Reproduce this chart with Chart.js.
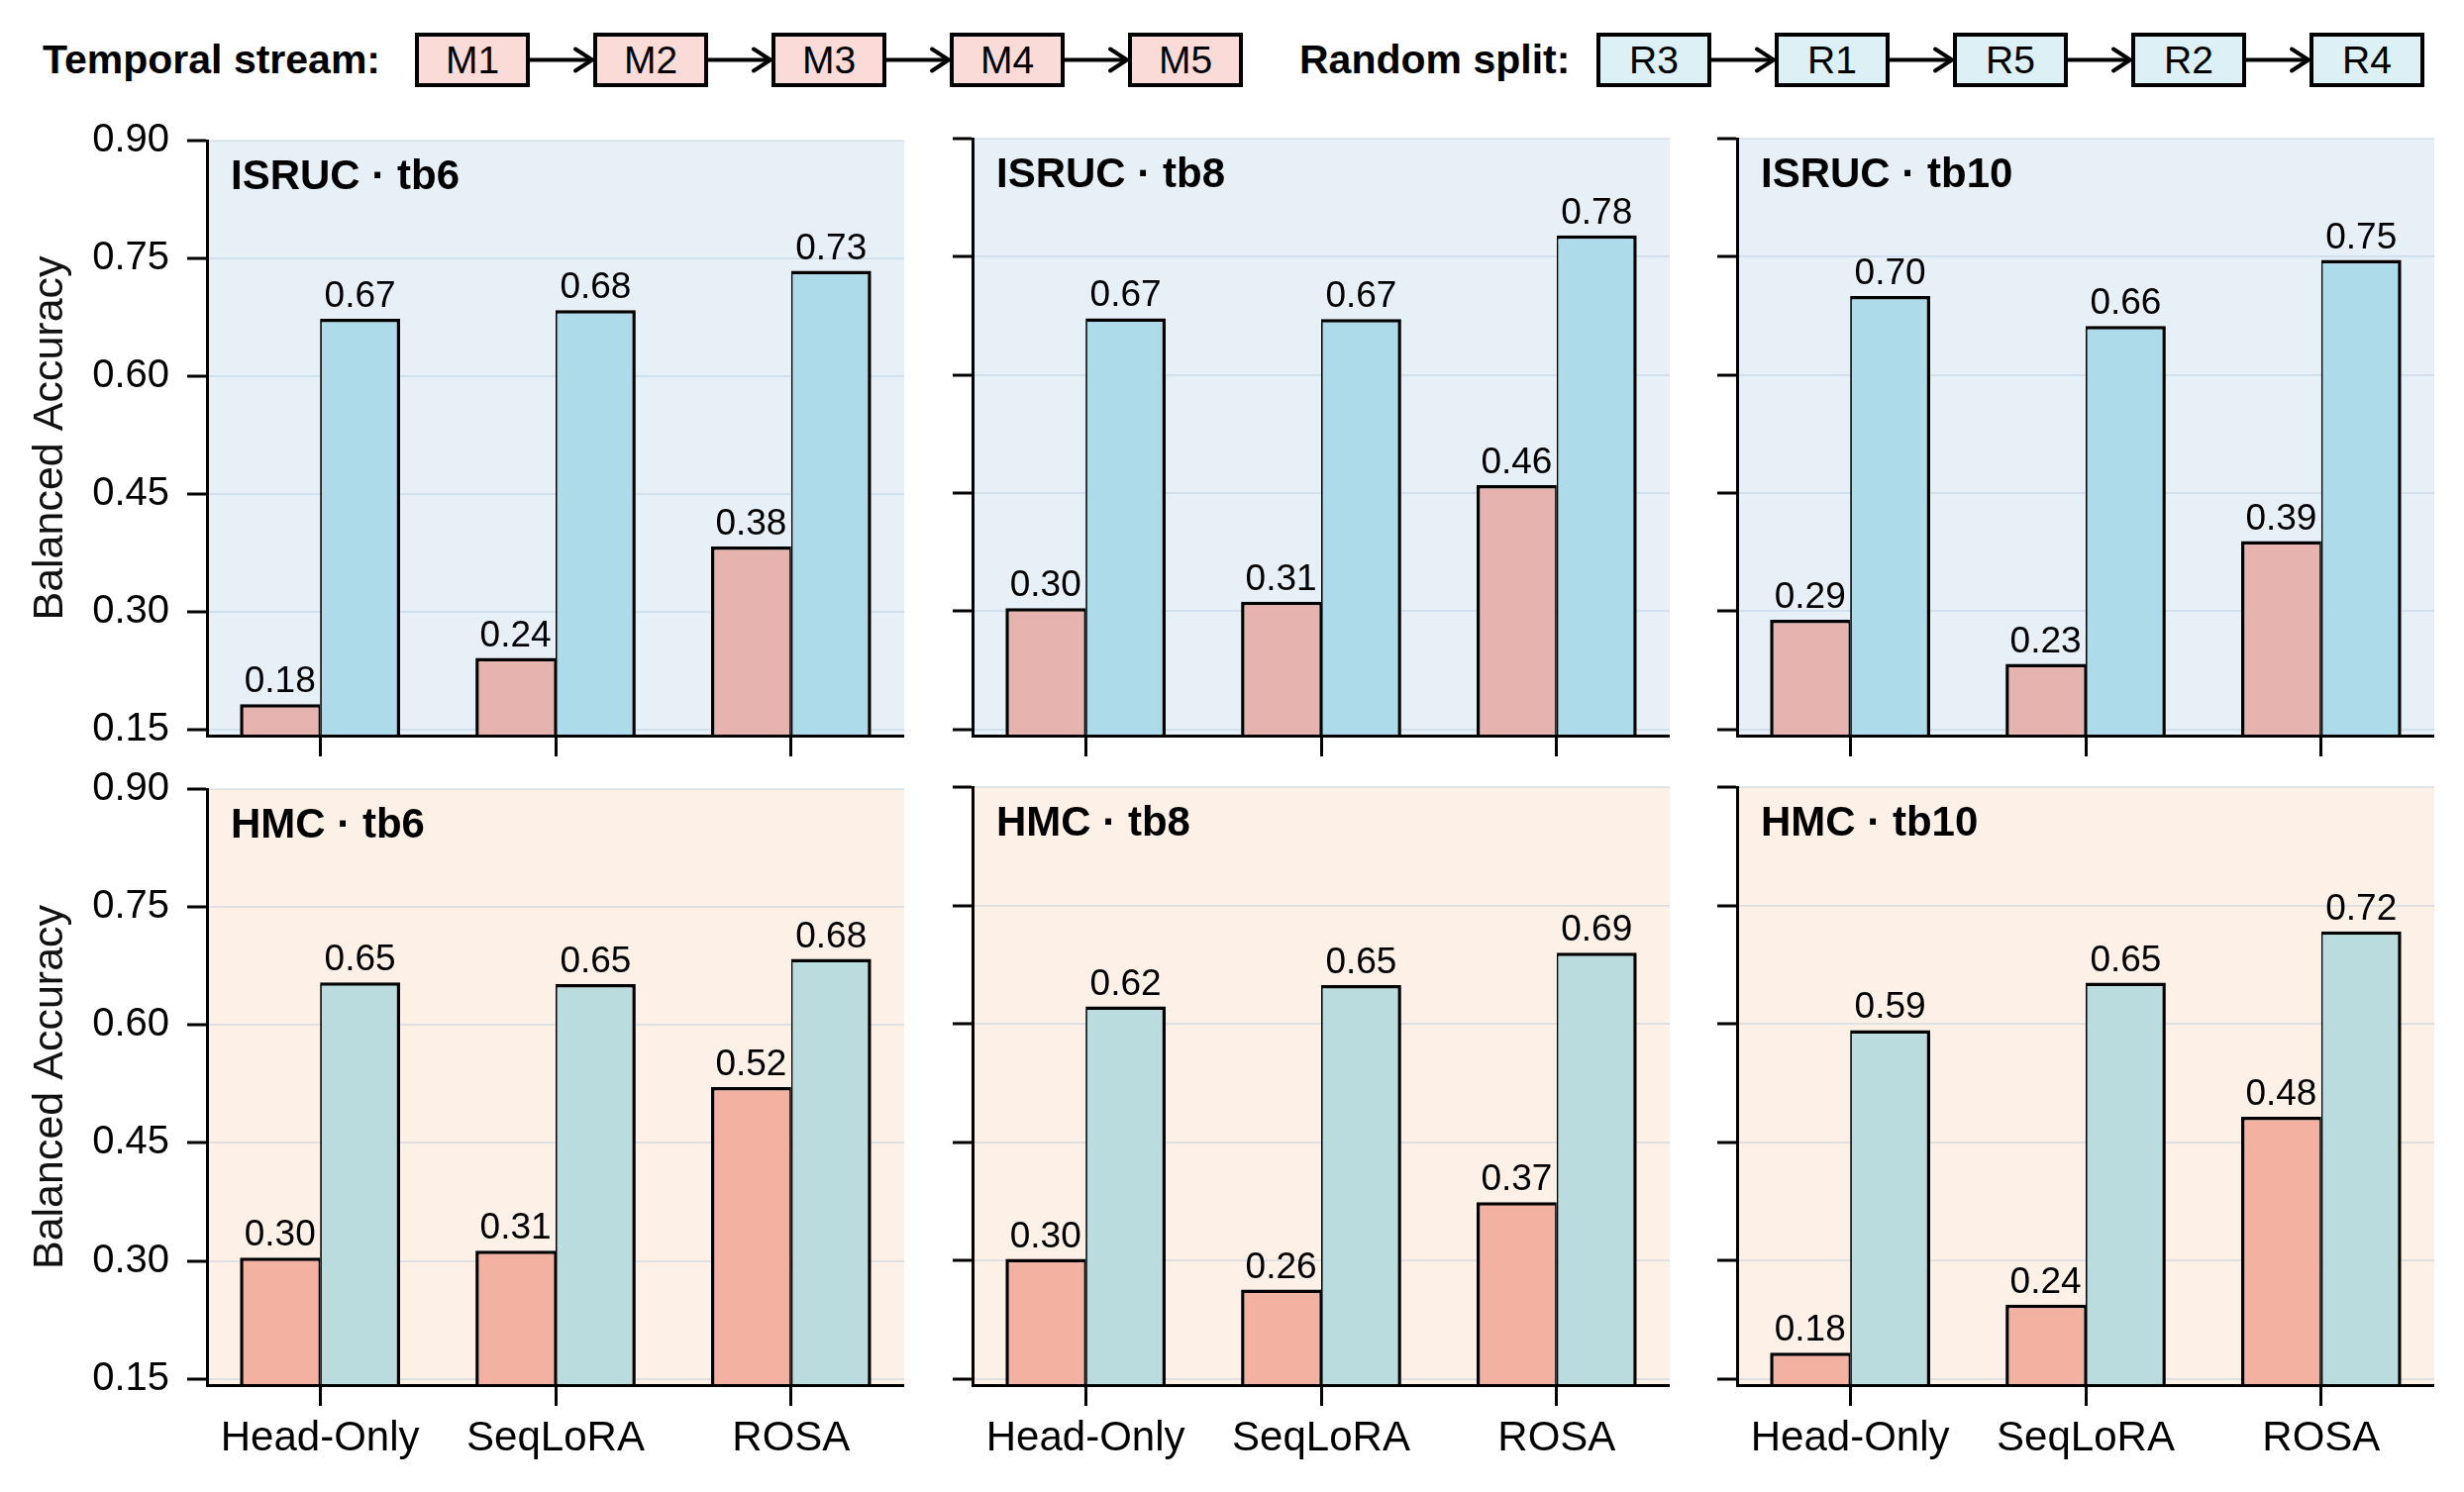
<!DOCTYPE html>
<html>
<head>
<meta charset="utf-8">
<script src="https://cdn.jsdelivr.net/npm/chart.js@4.4.1/dist/chart.umd.min.js"></script>
<style>
  html, body { margin: 0; padding: 0; background: #fff; }
  #wrap { position: relative; width: 2488px; height: 1507px; overflow: hidden;
          font-family: "Liberation Sans", Arial, sans-serif; color: #000; }
  #wrap canvas { position: absolute; }
  .hdr { position: absolute; top: 33px; height: 55px; line-height: 55px;
         font-weight: bold; font-size: 41px; white-space: nowrap; }
  .box { position: absolute; box-sizing: border-box; border: 4px solid #000;
         font-size: 39px; display: flex; align-items: center; justify-content: center; }
  #arrows { position: absolute; left: 0; top: 0; }
</style>
</head>
<body>
<div id="wrap">
  <div class="hdr" style="left:43px">Temporal stream:</div>
  <div class="hdr" style="left:1312px">Random split:</div>
  <svg id="arrows" width="2488" height="110"></svg>
</div>
<script>
const FONT = '"Liberation Sans", Arial, sans-serif';

// categories / labels
const methods = ['Head-Only', 'SeqLoRA', 'ROSA'];
const yTicks = [0.15, 0.30, 0.45, 0.60, 0.75, 0.90];
const datasetNames = ['ISRUC', 'HMC'];
const budgets = ['tb6', 'tb8', 'tb10'];
const temporalOrder = ['M1', 'M2', 'M3', 'M4', 'M5'];
const randomOrder = ['R3', 'R1', 'R5', 'R2', 'R4'];

// balanced accuracy
const isrucTb6Temporal = [0.182, 0.241, 0.383];
const isrucTb6Random = [0.673, 0.684, 0.734];
const isrucTb8Temporal = [0.304, 0.312, 0.460];
const isrucTb8Random = [0.672, 0.671, 0.777];
const isrucTb10Temporal = [0.289, 0.233, 0.389];
const isrucTb10Random = [0.700, 0.662, 0.746];
const hmcTb6Temporal = [0.304, 0.313, 0.521];
const hmcTb6Random = [0.654, 0.652, 0.684];
const hmcTb8Temporal = [0.302, 0.263, 0.374];
const hmcTb8Random = [0.622, 0.649, 0.690];
const hmcTb10Temporal = [0.183, 0.244, 0.482];
const hmcTb10Random = [0.592, 0.652, 0.717];

const panelValues = {
  ISRUC: { tb6: [isrucTb6Temporal, isrucTb6Random], tb8: [isrucTb8Temporal, isrucTb8Random], tb10: [isrucTb10Temporal, isrucTb10Random] },
  HMC: { tb6: [hmcTb6Temporal, hmcTb6Random], tb8: [hmcTb8Temporal, hmcTb8Random], tb10: [hmcTb10Temporal, hmcTb10Random] }
};

const rowStyles = {
  ISRUC: { bg: '#e8f0f7', temporal: '#e6b3af', random: '#addbe9' },
  HMC: { bg: '#fdf0e6', temporal: '#f3b1a2', random: '#bbdcde' }
};

// layout (px)
const plotL = [209, 982, 1754];
const plotW = 704;
const plotT = [140, 795];
const plotH = [603, 604];
const padTop = 40;

const wrap = document.getElementById('wrap');

// header: two chains of boxes with arrows
const svg = document.getElementById('arrows');
function drawChain(names, x0, fill) {
  const step = 180, w = 116, top = 33, h = 55, cy = 60.5;
  names.forEach((n, i) => {
    const b = document.createElement('div');
    b.className = 'box';
    b.style.left = (x0 + i * step) + 'px';
    b.style.top = top + 'px';
    b.style.width = w + 'px';
    b.style.height = h + 'px';
    b.style.background = fill;
    b.textContent = n;
    wrap.appendChild(b);
    if (i < names.length - 1) {
      const xa = x0 + i * step + w, xb = x0 + (i + 1) * step - 1;
      svg.insertAdjacentHTML('beforeend',
        `<line x1="${xa}" y1="${cy}" x2="${xb}" y2="${cy}" stroke="#000" stroke-width="4"/>` +
        `<polyline points="${xb - 17},${cy - 11} ${xb},${cy} ${xb - 17},${cy + 11}" fill="none" stroke="#000" stroke-width="4" stroke-linecap="round"/>`);
    }
  });
}
drawChain(temporalOrder, 419, '#fadbd8');
drawChain(randomOrder, 1612, '#dcf0f5');

const panelPlugin = {
  id: 'panelDecor',
  beforeDraw(chart, args, opts) {
    const a = chart.chartArea, ctx = chart.ctx;
    ctx.save();
    ctx.fillStyle = opts.bg;
    ctx.fillRect(a.left, a.top, a.right - a.left, a.bottom - a.top);
    ctx.restore();
  },
  afterDatasetsDraw(chart, args, opts) {
    const a = chart.chartArea, ctx = chart.ctx;
    ctx.save();
    ctx.fillStyle = '#000';
    ctx.textAlign = 'center';
    ctx.textBaseline = 'alphabetic';
    ctx.font = `37px ${FONT}`;
    chart.data.datasets.forEach((ds, i) => {
      chart.getDatasetMeta(i).data.forEach((bar, j) => {
        ctx.fillText(ds.data[j].y.toFixed(2), bar.x, bar.y - 12);
      });
    });
    ctx.textAlign = 'left';
    ctx.font = `bold 42px ${FONT}`;
    ctx.fillText(opts.title, a.left + 24, a.top + 49);
    ctx.restore();
  }
};

function makePanel(r, c) {
  const ds = datasetNames[r], tb = budgets[c];
  const [tVals, rVals] = panelValues[ds][tb];
  const st = rowStyles[ds];
  const yW = c === 0 ? 209 : 40;
  const xH = r === 0 ? 60 : 100;
  const w = yW + plotW, h = padTop + plotH[r] + xH;

  const canvas = document.createElement('canvas');
  canvas.width = w; canvas.height = h;
  canvas.style.width = w + 'px'; canvas.style.height = h + 'px';
  canvas.style.left = (plotL[c] - yW) + 'px';
  canvas.style.top = (plotT[r] - padTop) + 'px';
  wrap.appendChild(canvas);

  new Chart(canvas, {
    type: 'bar',
    data: {
      datasets: [
        {
          label: 'Temporal stream',
          data: tVals.map((v, i) => ({ x: i, y: v })),
          backgroundColor: st.temporal,
          borderColor: '#000',
          borderWidth: { top: 3.5, left: 3.5, right: 1.75, bottom: 0 },
          categoryPercentage: 0.68, barPercentage: 1, clip: 0
        },
        {
          label: 'Random split',
          data: rVals.map((v, i) => ({ x: i, y: v })),
          backgroundColor: st.random,
          borderColor: '#000',
          borderWidth: { top: 3.5, left: 1.75, right: 3.5, bottom: 0 },
          categoryPercentage: 0.68, barPercentage: 1, clip: 0
        }
      ]
    },
    options: {
      responsive: false,
      animation: false,
      devicePixelRatio: 1,
      layout: { padding: { top: padTop, left: 0, right: 0, bottom: 0 } },
      plugins: {
        legend: { display: false },
        tooltip: { enabled: false },
        panelDecor: { bg: st.bg, title: `${ds} · ${tb}` }
      },
      scales: {
        x: {
          type: 'linear', min: -0.48, max: 2.48, offset: false,
          afterBuildTicks: s => { s.ticks = methods.map((m, i) => ({ value: i })); },
          afterFit: s => { s.height = xH; },
          grid: { drawOnChartArea: false, drawTicks: true, tickLength: 21, tickColor: '#000', tickWidth: 3, offset: false },
          border: { display: true, color: '#000', width: 3, z: 1 },
          ticks: {
            display: r === 1, autoSkip: false, maxRotation: 0, padding: 8, color: '#000',
            font: { family: FONT, size: 42 },
            callback: v => methods[v]
          }
        },
        y: {
          min: 0.142, max: 0.9,
          afterBuildTicks: s => { s.ticks = yTicks.map(v => ({ value: v })); },
          afterFit: s => { s.width = yW; },
          grid: { color: 'rgba(170,195,220,0.35)', lineWidth: 2, tickLength: 20, tickColor: '#000', tickWidth: 3 },
          border: { display: true, color: '#000', width: 3, z: 1 },
          ticks: {
            display: c === 0, padding: 18, color: '#000',
            font: { family: FONT, size: 40 },
            callback: v => v.toFixed(2)
          },
          title: {
            display: c === 0, text: 'Balanced Accuracy', color: '#111',
            font: { family: FONT, size: 43 }, padding: { top: 25, bottom: 0 }
          }
        }
      }
    },
    plugins: [panelPlugin]
  });
}

for (let r = 0; r < 2; r++) {
  for (let c = 0; c < 3; c++) makePanel(r, c);
}
</script>
</body>
</html>
